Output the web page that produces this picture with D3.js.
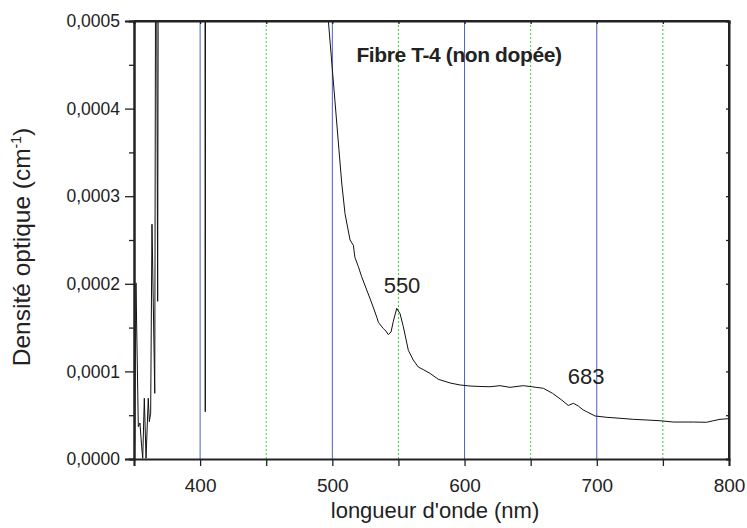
<!DOCTYPE html>
<html><head><meta charset="utf-8">
<script src="https://cdn.jsdelivr.net/npm/d3@7"></script>
<style>
body{margin:0;background:#fff}
text{font-family:"Liberation Sans",Arial,sans-serif;fill:#222}
</style>
</head><body>
<svg id="c" width="747" height="528"></svg>
<script>
// ---- data ----
const wavelength = [350.5,351.5,353.25,354.5,355.8,356.6,357.8,359.1,360.8,361.6,362.6,363.6,365.7,366.6,367.9,368.7,
  380,400,403.5,403.9,404.3,450,490,495,
  496.95,501.9,505.0,507.1,509.6,513.4,515.9,517.1,519.6,522.2,526.0,529.8,533.6,534.8,538.5,540.6,542.3,544.4,546.1,548.7,
  551.2,553.7,557.5,561.2,565.0,568.8,573.9,580.1,589.0,596.6,604.1,611.7,619.2,626.8,634.4,644.4,650.8,659.6,666.5,673.5,
  678.5,682.3,686.0,689.8,692.4,698.7,707.5,717.6,727.6,737.8,747.8,757.9,773.0,783.1,788.1,793.2,799.5];
const density = [0.000016,0.000201,0.0000369,0.0000411,0.000014,0.0000008,0.0000693,0.0000008,0.0000693,0.0000426,0.0000522,0.000268,0.000075,0.0008,0.00018,0.0009,
  0.0011,0.0012,0.0012,0.000054,0.0012,0.0011,0.00063,0.000537,
  0.000501,0.00041,0.000353,0.000315,0.00028,0.000250,0.000244,0.00023,0.00022,0.000208,0.000193,0.000178,0.000162,0.000156,0.000149,0.000146,0.000142,0.000145,0.000157,0.000172,
  0.000166,0.000151,0.000124,0.000113,0.000105,0.000102,0.0000978,0.000091,0.0000868,0.0000845,0.0000833,0.0000828,0.0000825,0.0000837,0.0000818,0.0000837,0.0000825,0.0000807,0.000075,0.0000673,
  0.0000611,0.0000636,0.0000605,0.0000559,0.000054,0.0000491,0.0000476,0.0000465,0.0000453,0.0000445,0.0000437,0.0000422,0.0000422,0.0000419,0.0000437,0.0000453,0.000046];
const xTickLabels = [400,500,600,700,800];
const xMinorTicks = [350,400,450,500,550,600,650,700,750,800];
const yTickLabels = [0,0.0001,0.0002,0.0003,0.0004,0.0005];
const yMinorTicks = [0.00005,0.00015,0.00025,0.00035,0.00045];
const solidGrid = [400,500,600,700];
const dottedGrid = [450,550,650,750];
const peakLabels = ["550","683"];
const peakX = [552.7,692];
const peakY = [0.0001895,0.0000856];
const title = "Fibre T-4 (non dopée)";
const xTitle = "longueur d'onde (nm)";

// ---- layout ----
const svg = d3.select("#c");
const m = {l:134, t:21, r:747-729, b:528-459};
const W = 747 - m.l - m.r, H = 528 - m.t - m.b;
const x = d3.scaleLinear().domain([350,800]).range([0,W]);
const y = d3.scaleLinear().domain([0,0.0005]).range([H,0]);
const g = svg.append("g").attr("transform",`translate(${m.l},${m.t})`);

svg.append("defs").append("clipPath").attr("id","clip")
  .append("rect").attr("width",W).attr("height",H);

// grid
g.selectAll(".gs").data(solidGrid).join("line")
  .attr("x1",d=>x(d)).attr("x2",d=>x(d)).attr("y1",0).attr("y2",H)
  .attr("stroke","#4a5fc2").attr("stroke-width",1);
g.selectAll(".gd").data(dottedGrid).join("line")
  .attr("x1",d=>x(d)).attr("x2",d=>x(d)).attr("y1",0).attr("y2",H)
  .attr("stroke","#3ccf3c").attr("stroke-width",1).attr("stroke-dasharray","2,2");

// curve
const line = d3.line().x((d,i)=>x(wavelength[i])).y(d=>y(d));
g.append("path").attr("clip-path","url(#clip)").datum(density)
  .attr("d",line).attr("fill","none").attr("stroke","#111").attr("stroke-width",1);

// axes
const fmt = v => d3.format(".4f")(v).replace(".",",");
const xAxis = g.append("g").attr("transform",`translate(0,${H})`)
  .call(d3.axisBottom(x).tickValues(xMinorTicks).tickSize(7).tickFormat(d=>xTickLabels.includes(d)?d:""));
const yAxis = g.append("g")
  .call(d3.axisLeft(y).tickValues(yTickLabels).tickSize(9).tickFormat(fmt));
g.append("g").call(d3.axisLeft(y).tickValues(yMinorTicks).tickSize(5).tickFormat(""));
g.append("g").attr("transform",`translate(${W},0)`)
  .call(d3.axisLeft(y).tickValues(yTickLabels.concat(yMinorTicks)).tickSize(3).tickFormat(""));
g.append("g").call(d3.axisBottom(x).tickValues(xMinorTicks).tickSize(3).tickFormat(""));
g.selectAll(".domain").attr("stroke","#222").attr("stroke-width",2);
g.selectAll(".tick line").attr("stroke","#222").attr("stroke-width",1.3);
xAxis.selectAll("text").attr("font-size",19).attr("y",15).attr("dy","0.95em").attr("fill","#222");
yAxis.selectAll("text").attr("font-size",17.5).attr("dx","-2").attr("fill","#222");
g.selectAll(".tick text").style("font-family",'"Liberation Sans",Arial,sans-serif');

// frame top/right
g.append("line").attr("x1",0).attr("x2",W).attr("y1",0).attr("y2",0).attr("stroke","#222").attr("stroke-width",2);
g.append("line").attr("x1",W).attr("x2",W).attr("y1",0).attr("y2",H).attr("stroke","#222").attr("stroke-width",2);

// texts
svg.append("text").attr("x",459).attr("y",62).attr("text-anchor","middle")
  .attr("font-size",21).attr("font-weight","bold").attr("letter-spacing","-0.4").text(title);
g.selectAll(".pk").data(peakLabels).join("text")
  .attr("x",(d,i)=>x(peakX[i])).attr("y",(d,i)=>y(peakY[i]))
  .attr("text-anchor","middle").attr("font-size",22).text(d=>d);
svg.append("text").attr("x",435).attr("y",518).attr("text-anchor","middle")
  .attr("font-size",22).text(xTitle);
const yl = svg.append("text").attr("transform","translate(30,247) rotate(-90)")
  .attr("text-anchor","middle").attr("font-size",24.5);
yl.append("tspan").text("Densité optique (cm");
yl.append("tspan").attr("font-size",14).attr("dy",-9).text("-1");
yl.append("tspan").attr("dy",9).text(")");
</script>
</body></html>
